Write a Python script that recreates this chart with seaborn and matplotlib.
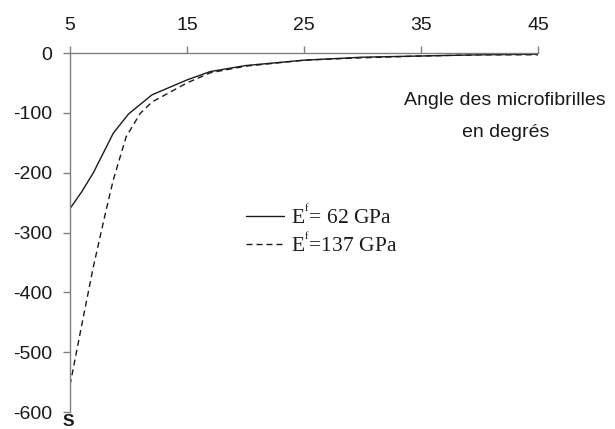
import numpy as np
import pandas as pd
import matplotlib
matplotlib.use("Agg")
import matplotlib.pyplot as plt
import seaborn as sns

# Data
angle_62 = [5, 6, 7, 8.7, 10, 12, 15, 17, 20, 25, 30, 35, 40, 45]
s_62 = [-260, -232, -200, -134, -102, -70, -45, -31, -21, -12, -7, -5, -3, -2]
angle_137 = [5, 6, 7, 8, 8.7, 9.8, 11, 12, 15, 17, 20, 25, 30, 35, 40, 45]
s_137 = [-555, -455, -357, -270, -212, -140, -101, -82, -50, -33, -22, -12, -8, -5, -3, -3]
labels = ["E$^{{}^{\\mathrm{f}}}$= 62 GPa", "E$^{{}^{\\mathrm{f}}}$=137 GPa"]
xticks = [5, 15, 25, 35, 45]
yticks = [0, -100, -200, -300, -400, -500, -600]

sns.set_theme(style="white")
plt.rcParams['font.family'] = ['Liberation Sans', 'DejaVu Sans']
plt.rcParams['mathtext.fontset'] = 'custom'
plt.rcParams['mathtext.rm'] = 'Liberation Serif'
plt.rcParams['mathtext.it'] = 'Liberation Serif:italic'

df = pd.concat([
    pd.DataFrame({"angle": angle_62, "s": s_62, "serie": labels[0]}),
    pd.DataFrame({"angle": angle_137, "s": s_137, "serie": labels[1]}),
])

fig = plt.figure(figsize=(6.15, 4.29), dpi=100)
ax = fig.add_axes([70/615, 17/429, 468/615, 359/429])

sns.lineplot(data=df, x="angle", y="s", hue="serie", style="serie",
             palette=["#1a1a1a", "#1a1a1a"], dashes=[(), (4.3, 2.9)],
             linewidth=1.0, ax=ax, legend=True, sort=False)

ax.set_xlim(5, 45)
ax.set_ylim(-600, 0)
ax.set_xticks(xticks)
ax.set_yticks(yticks)
ax.set_yticklabels([str(v) for v in yticks])
ax.xaxis.tick_top()
ax.set_xlabel("")
ax.set_ylabel("")
for s in ["bottom", "right"]:
    ax.spines[s].set_visible(False)
for s in ["top", "left"]:
    ax.spines[s].set_color("#808080")
    ax.spines[s].set_linewidth(1.0)
ax.tick_params(axis="x", which="both", top=True, bottom=False, direction="out",
               length=5, width=1, color="#808080", labelsize=14, pad=9, labelcolor="#1a1a1a")
ax.tick_params(axis="y", which="both", left=True, direction="out",
               length=5, width=1, color="#808080", labelsize=14, pad=8, labelcolor="#1a1a1a")

ax.text(0.93, 0.823, "Angle des microfibrilles\nen degrés", transform=ax.transAxes,
        ha="center", va="center", fontsize=14, color="#1a1a1a", linespacing=2.1)
fig.text(63/615, 0.5/429, "S", ha="left", va="bottom",
         fontsize=12.5, fontweight="bold", color="#1a1a1a")

handles, labs = ax.get_legend_handles_labels()
leg = ax.legend(handles, labs, loc="upper left", bbox_to_anchor=(0.353, 0.608),
                frameon=False, handlelength=1.77, handletextpad=0.33, labelspacing=0.2,
                borderpad=0, prop={"family": "Liberation Serif", "size": 15.5})
for t in leg.get_texts():
    t.set_color("#1a1a1a")

fig.savefig("out.png", dpi=100)
